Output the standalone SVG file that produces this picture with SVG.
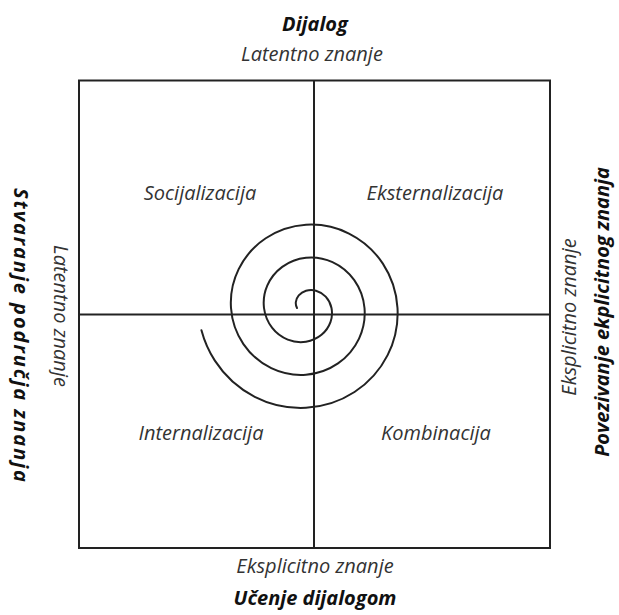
<svg xmlns="http://www.w3.org/2000/svg" width="619" height="615" viewBox="0 0 619 615">
<style>
  .lbl { font-family: "Open Sans", "Noto Sans", sans-serif; font-style: italic; font-size: 20px; fill: #333; text-anchor: middle; }
  .ttl { font-family: "Open Sans", "Noto Sans", sans-serif; font-style: italic; font-weight: bold; font-size: 20px; fill: #111; text-anchor: middle; }
  .ln { stroke: #222; stroke-width: 2; fill: none; }
  .sp { stroke: #222; stroke-width: 2; fill: none; stroke-linecap: round; }
</style>
<rect width="619" height="615" fill="#fff"/>
<g id="frame">
  <rect x="79" y="80.5" width="471" height="467.5" class="ln"/>
</g>
<g id="connectors">
  <line x1="314" y1="80.5" x2="314" y2="548" class="ln" stroke="#444"/>
  <line x1="79" y1="314.5" x2="550" y2="314.5" class="ln"/>
  <path id="spiral" class="sp" d="M297,308 A10.4,10.4 0 0 1 295.82,302.13 A13.1,13.1 0 0 1 298.75,295.44 A15.9,15.9 0 0 1 306,290.75 A18.6,18.6 0 0 1 316,290.68 A21.4,21.4 0 0 1 325.7,296.63 A24.1,24.1 0 0 1 331.5,308 A26.9,26.9 0 0 1 330.46,322.13 A29.6,29.6 0 0 1 321.5,334.85 A32.4,32.4 0 0 1 306,341.75 A35.1,35.1 0 0 1 287.75,339.61 A37.9,37.9 0 0 1 272.01,327.63 A40.6,40.6 0 0 1 264,308 A43.4,43.4 0 0 1 267.25,285.63 A46.1,46.1 0 0 1 282.25,266.86 A48.9,48.9 0 0 1 306,257.75 A51.6,51.6 0 0 1 332.5,262.1 A54.4,54.4 0 0 1 354.28,280.13 A57.1,57.1 0 0 1 364.5,308 A59.9,59.9 0 0 1 359.04,338.63 A62.6,62.6 0 0 1 338,363.43 A65.4,65.4 0 0 1 306,374.75 A68.1,68.1 0 0 1 271.25,368.19 A70.9,70.9 0 0 1 243.43,344.13 A73.6,73.6 0 0 1 231,308 A76.4,76.4 0 0 1 238.67,269.13 A79.1,79.1 0 0 1 265.75,238.29 A81.9,81.9 0 0 1 306,224.75 A84.6,84.6 0 0 1 349,233.52 A87.4,87.4 0 0 1 382.86,263.63 A90.1,90.1 0 0 1 397.5,308 A92.9,92.9 0 0 1 387.62,355.13 A95.6,95.6 0 0 1 354.5,392 A98.4,98.4 0 0 1 306,407.75 A101.1,101.1 0 0 1 254.75,396.77 A103.9,103.9 0 0 1 214.85,360.63 A106.1,106.1 0 0 1 201.44,330.23"/>
</g>
<g id="top-labels">
  <text class="ttl" x="315" y="31">Dijalog</text>
  <text class="lbl" x="312" y="61">Latentno znanje</text>
</g>
<g id="bottom-labels">
  <text class="lbl" x="315" y="573">Eksplicitno znanje</text>
  <text class="ttl" x="315" y="605">Učenje dijalogom</text>
</g>
<g id="left-labels">
  <text class="ttl" transform="translate(14,335) rotate(90)" textLength="294" lengthAdjust="spacing">Stvaranje područja znanja</text>
  <text class="lbl" transform="translate(54,316) rotate(90)">Latentno znanje</text>
</g>
<g id="right-labels">
  <text class="lbl" transform="translate(576,317) rotate(-90)">Eksplicitno znanje</text>
  <text class="ttl" transform="translate(609,312) rotate(-90)">Povezivanje ekplicitnog znanja</text>
</g>
<g id="socijalizacija"><text class="lbl" x="200" y="200">Socijalizacija</text></g>
<g id="eksternalizacija"><text class="lbl" x="435" y="200">Eksternalizacija</text></g>
<g id="internalizacija"><text class="lbl" x="201" y="440">Internalizacija</text></g>
<g id="kombinacija"><text class="lbl" x="436" y="440">Kombinacija</text></g>
</svg>
